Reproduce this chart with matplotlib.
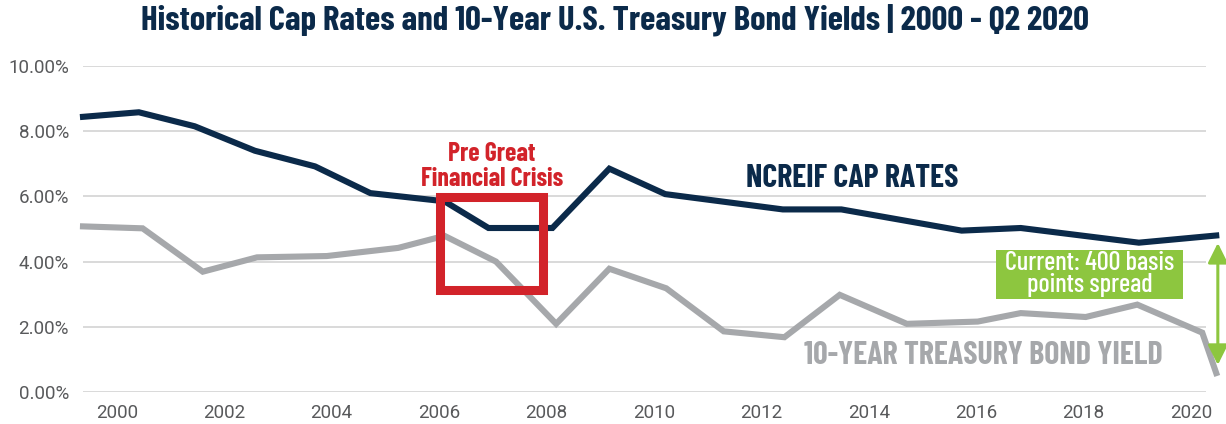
import matplotlib
matplotlib.use("Agg")
import matplotlib.pyplot as plt
from matplotlib.patches import Rectangle

# Data (x in decimal years, values in %)
cap_years = [1999.37, 2000.41, 2001.45, 2002.57, 2003.69, 2004.72, 2006.10,
             2006.92, 2008.11, 2009.17, 2010.21, 2012.40, 2013.49, 2015.73,
             2016.83, 2019.03, 2020.47]
cap_rates = [8.44, 8.58, 8.15, 7.40, 6.92, 6.10, 5.85,
             5.03, 5.03, 6.85, 6.07, 5.60, 5.60, 4.95,
             5.03, 4.58, 4.80]

tsy_years = [1999.37, 2000.48, 2001.60, 2002.61, 2003.91, 2005.24, 2006.10,
             2007.06, 2008.18, 2009.17, 2010.23, 2011.30, 2012.43, 2013.46,
             2014.71, 2016.03, 2016.83, 2018.04, 2019.00, 2020.21, 2020.47]
tsy_yield = [5.08, 5.02, 3.69, 4.13, 4.17, 4.42, 4.79,
             4.00, 2.09, 3.78, 3.18, 1.86, 1.68, 2.98,
             2.09, 2.16, 2.42, 2.30, 2.68, 1.82, 0.58]

x_ticks = [2000, 2002, 2004, 2006, 2008, 2010, 2012, 2014, 2016, 2018, 2020]
y_ticks = [0, 2, 4, 6, 8, 10]

navy = "#0b2a4a"
gray = "#a6a8ab"
red = "#d2232a"
green = "#8dc63f"
cond = ["Barlow Condensed", "Liberation Sans Narrow", "DejaVu Sans"]
tickfont = ["Roboto", "Liberation Sans", "DejaVu Sans"]

fig = plt.figure(figsize=(12.26, 4.24), dpi=100)
ax = fig.add_axes([0.0677, 0.0755, 0.9160, 0.7689])

ax.plot(cap_years, cap_rates, color=navy, lw=4.4, clip_on=False,
        solid_joinstyle="miter", zorder=3)
ax.plot(tsy_years, tsy_yield, color=gray, lw=4.4, clip_on=False,
        solid_joinstyle="miter", zorder=3)

ax.set_xlim(1999.37, 2020.28)
ax.set_ylim(0, 10)
ax.set_xticks(x_ticks)
ax.set_yticks(y_ticks)
ax.set_yticklabels([f"{v:.2f}%" for v in y_ticks])
ax.grid(axis="y", color="#d9d9d9", lw=1.4)
ax.set_axisbelow(True)
for s in ax.spines.values():
    s.set_visible(False)
ax.tick_params(length=0, labelsize=13.5, labelcolor="#58595b")
ax.tick_params(axis="x", pad=9)
ax.tick_params(axis="y", pad=10)
for lab in ax.get_xticklabels() + ax.get_yticklabels():
    lab.set_fontfamily(tickfont)

# Pre-GFC box
ax.add_patch(Rectangle((2006.02, 3.12), 1.92, 2.86, fill=False,
                       ec=red, lw=6.5, joinstyle="miter", zorder=4))
ax.text(2006.98, 6.93, "Pre Great\nFinancial Crisis", color=red,
        fontfamily=cond, fontweight="bold", fontsize=18.5, ha="center",
        va="center", linespacing=1.05)

ax.text(2013.70, 6.56, "NCREIF CAP RATES", color=navy, fontfamily=cond,
        fontweight="bold", fontsize=23, ha="center", va="center")
ax.text(2016.14, 1.13, "10-YEAR TREASURY BOND YIELD", color=gray,
        fontfamily=cond, fontweight="bold", fontsize=23, ha="center",
        va="center")

# spread callout
ax.add_patch(Rectangle((2016.37, 2.85), 3.48, 1.51, color=green, lw=0,
                       zorder=4, clip_on=False))
ax.text(2018.11, 3.62, "Current: 400 basis\npoints spread", color="white",
        fontfamily=cond, fontweight="medium", fontsize=19, ha="center",
        va="center", linespacing=0.92, zorder=5)
ax.annotate("", xy=(2020.50, 4.57), xytext=(2020.50, 0.83),
            arrowprops=dict(arrowstyle="<|-|>", color=green, lw=2.2,
                            mutation_scale=30, shrinkA=0, shrinkB=0),
            annotation_clip=False)

fig.text(0.502, 0.953,
         "Historical Cap Rates and 10-Year U.S. Treasury Bond Yields | 2000 - Q2 2020",
         color=navy, fontfamily=cond, fontweight="bold", fontsize=25,
         ha="center", va="center")

fig.savefig("out.png", dpi=100)
